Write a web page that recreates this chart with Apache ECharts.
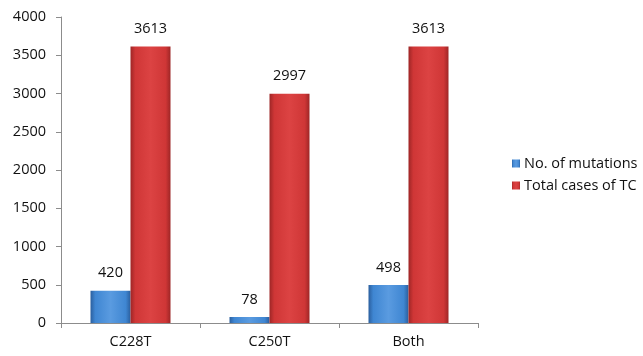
<!DOCTYPE html>
<html>
<head>
<meta charset="utf-8">
<script src="https://cdn.jsdelivr.net/npm/echarts@6/dist/echarts.min.js"></script>
<style>
  html, body { margin: 0; padding: 0; background: #fff; }
  #chart { width: 643px; height: 356px; }
</style>
</head>
<body>
<div id="chart"></div>
<script>
// Mutation counts vs. total thyroid cancer cases per promoter variant
const categories = ['C228T', 'C250T', 'Both'];
const mutations = [420, 78, 498];
const totalCases = [3613, 2997, 3613];
const yTicks = [0, 500, 1000, 1500, 2000, 2500, 3000, 3500, 4000];

const FONT = '"Open Sans", "Liberation Sans", sans-serif';
const FS = 14.5;

function barGradient(dark, mid, light) {
  return new echarts.graphic.LinearGradient(0, 0, 1, 0, [
    { offset: 0, color: dark },
    { offset: 0.12, color: mid },
    { offset: 0.5, color: light },
    { offset: 0.88, color: mid },
    { offset: 1, color: dark }
  ]);
}

const chart = echarts.init(document.getElementById('chart'));
chart.setOption({
  animation: false,
  backgroundColor: '#ffffff',
  grid: { left: 61, right: 165, top: 17, bottom: 33 },
  legend: {
    orient: 'vertical',
    left: 507,
    top: 151,
    itemWidth: 8,
    itemHeight: 8,
    itemGap: 7,
    icon: 'rect',
    textStyle: { fontFamily: FONT, fontSize: FS, color: '#111', padding: [0, 0, 0, -1] },
    data: ['No. of mutations', 'Total cases of TC']
  },
  xAxis: {
    type: 'category',
    data: categories,
    axisLine: { lineStyle: { color: '#8c8c8c' } },
    axisTick: { show: true, length: 5, alignWithLabel: false, lineStyle: { color: '#8c8c8c' } },
    axisLabel: { fontFamily: FONT, fontSize: FS, color: '#111', margin: 11 }
  },
  yAxis: {
    type: 'value',
    min: yTicks[0],
    max: yTicks[yTicks.length - 1],
    interval: 500,
    axisLine: { show: true, lineStyle: { color: '#8c8c8c' } },
    axisTick: { show: true, length: 5, lineStyle: { color: '#8c8c8c' } },
    splitLine: { show: false },
    axisLabel: {
      fontFamily: FONT, fontSize: FS, color: '#111', margin: 15,
      formatter: function (v) { return String(v); }
    }
  },
  series: [
    {
      name: 'No. of mutations',
      type: 'bar',
      data: mutations,
      barWidth: 40,
      barGap: '0%',
      itemStyle: { color: barGradient('#2b5f9e', '#3f86d2', '#5a9be0') },
      label: { show: true, position: 'top', distance: 10, fontFamily: FONT, fontSize: FS, color: '#111' }
    },
    {
      name: 'Total cases of TC',
      type: 'bar',
      data: totalCases,
      barWidth: 40,
      itemStyle: { color: barGradient('#9e2626', '#cf3636', '#dc4343') },
      label: { show: true, position: 'top', distance: 10, fontFamily: FONT, fontSize: FS, color: '#111' }
    }
  ]
});
</script>
</body>
</html>
